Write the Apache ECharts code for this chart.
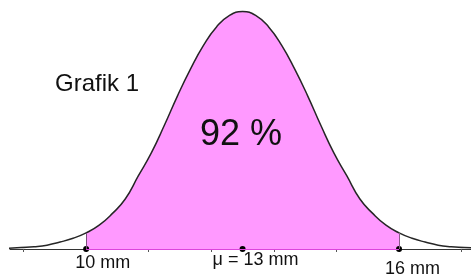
<!DOCTYPE html>
<html>
<head>
<meta charset="utf-8">
<script src="https://cdn.jsdelivr.net/npm/echarts@6/dist/echarts.min.js"></script>
<style>
    html, body { margin: 0; padding: 0; background: #ffffff; }
    #myChart { width: 471px; height: 275px; }
</style>
</head>
<body>
<div id="myChart"></div>
<script>
    // Kurve (x in mm, relative Dichte)
    var xValues = [8.5, 8.75, 9, 9.25, 9.5, 9.75, 10, 10.25, 10.5, 10.75, 11, 11.25, 11.5, 11.75, 12, 12.25, 12.5, 12.75,
        13, 13.25, 13.5, 13.75, 14, 14.25, 14.5, 14.75, 15, 15.25, 15.5, 15.75, 16, 16.25, 16.5, 16.75, 17, 17.25, 17.5];
    var densities = [0.001, 0.002, 0.003, 0.005, 0.009, 0.014, 0.021, 0.031, 0.046, 0.065, 0.095, 0.125, 0.161, 0.199, 0.234, 0.265, 0.289, 0.304,
        0.309, 0.304, 0.289, 0.265, 0.234, 0.199, 0.161, 0.125, 0.095, 0.065, 0.046, 0.031, 0.021, 0.014, 0.009, 0.005, 0.003, 0.002, 0.001];
    var markValues = [10, 13, 16];
    var markLabels = ['10 mm', 'μ = 13 mm', '16 mm'];
    var tickValues = [8.8, 10, 11.2, 12.4, 13.6, 14.8, 16, 17.2];
    var shadedFrom = 10;
    var shadedTo = 16;
    var shadedShare = '92 %';
    var chartTitle = 'Grafik 1';

    var font = "'Liberation Sans', Arial, sans-serif";
    var labelOffsets = [[-11, 14], [-30, 11.5], [-14, 20.5]];

    var curve = xValues.map(function (x, i) { return [x, densities[i]]; });
    var shaded = curve.filter(function (p) { return p[0] >= shadedFrom && p[0] <= shadedTo; });
    var hFrom = shaded[0][1];
    var hTo = shaded[shaded.length - 1][1];

    var myChart = echarts.init(document.getElementById('myChart'));
    myChart.setOption({
        animation: false,
        grid: { left: 10, right: 0, top: 0, bottom: 26 },
        xAxis: {
            type: 'value',
            min: 8.54,
            max: 17.38,
            splitLine: { show: false },
            axisLabel: { show: false },
            axisLine: { show: true, onZero: false, lineStyle: { color: '#333333', width: 1 } },
            axisTick: { show: true, customValues: tickValues, length: 3, lineStyle: { color: '#555555' } }
        },
        yAxis: { type: 'value', min: 0, max: 0.324, show: false },
        graphic: [
            { type: 'text', z: 20, left: 55, top: 72, style: { text: chartTitle, font: '24px ' + font, fill: '#111111' } },
            { type: 'text', z: 20, left: 200, top: 117, style: { text: shadedShare, font: '36px ' + font, fill: '#111111' } }
        ],
        series: [
            {
                type: 'line',
                data: shaded,
                smooth: true,
                showSymbol: false,
                lineStyle: { width: 0 },
                areaStyle: { color: '#ff99ff', opacity: 1 },
                z: 1,
                markLine: {
                    silent: true,
                    symbol: 'none',
                    label: { show: false },
                    data: [
                        [{ coord: [shadedFrom, 0], lineStyle: { color: '#dd44dd', width: 1, type: 'solid' } }, { coord: [shadedTo, 0] }],
                        [{ coord: [shadedFrom, 0], lineStyle: { color: '#7a4f7a', width: 1, type: 'solid' } }, { coord: [shadedFrom, hFrom] }],
                        [{ coord: [shadedTo, 0], lineStyle: { color: '#8a5a8a', width: 1, type: 'solid' } }, { coord: [shadedTo, hTo] }]
                    ]
                }
            },
            {
                type: 'line',
                data: curve,
                smooth: true,
                showSymbol: false,
                lineStyle: { color: '#262626', width: 1.5 },
                z: 3
            },
            {
                type: 'scatter',
                symbolSize: 6,
                itemStyle: { color: '#000000', opacity: 1 },
                z: 4,
                data: markValues.map(function (v, i) {
                    return {
                        value: [v, 0],
                        label: {
                            show: true,
                            formatter: markLabels[i],
                            position: 'inside',
                            align: 'left',
                            verticalAlign: 'middle',
                            offset: labelOffsets[i],
                            color: '#111111',
                            fontSize: 18,
                            fontFamily: font
                        }
                    };
                })
            }
        ]
    });
</script>
</body>
</html>
